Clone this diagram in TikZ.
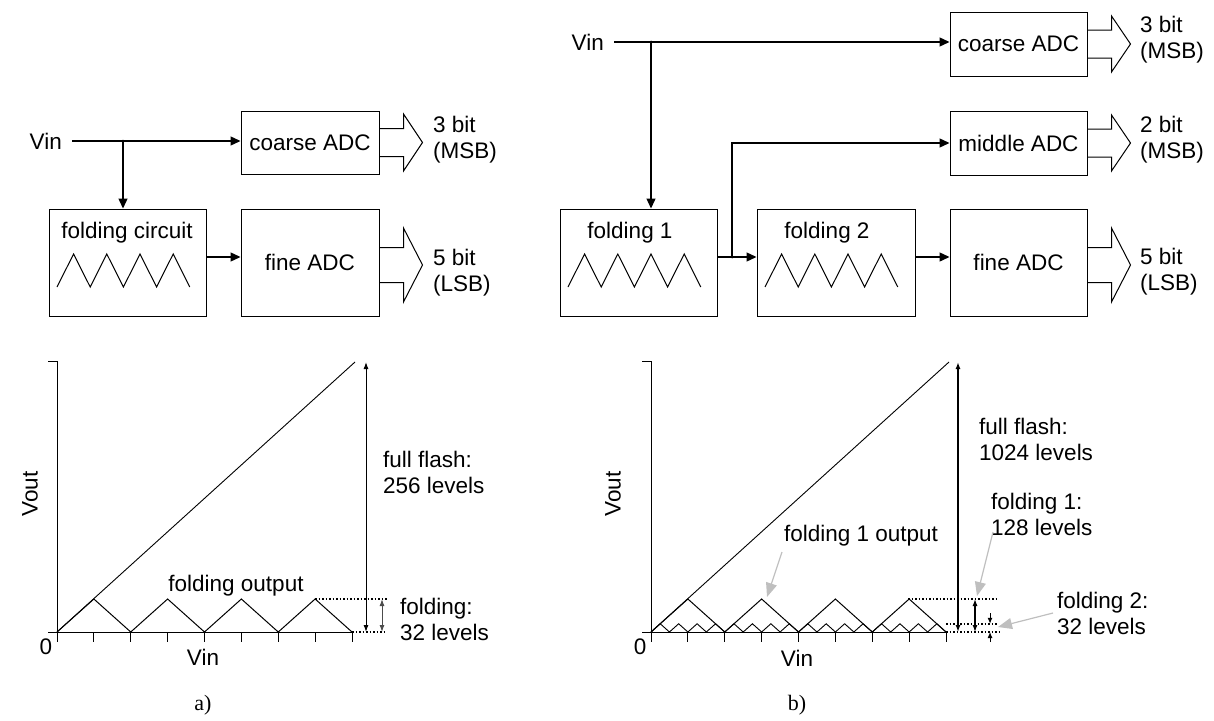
\documentclass[tikz,border=0pt]{standalone}
\usepackage{fontspec}
\setmainfont{Liberation Sans}
\newfontfamily\serifcap{Liberation Serif}
\usetikzlibrary{arrows.meta}
\tikzset{
 box/.style={draw, line width=1pt, inner sep=0pt, font=\fontsize{22.5}{26}\selectfont},
 conn/.style={line width=1.3pt, -{Triangle[length=10pt,width=9pt]}},
 lbl/.style={font=\fontsize{22.5}{26}\selectfont, inner sep=0pt},
 hollow/.style={line width=1pt, line join=miter},
 wave/.style={line width=1pt, line join=miter},
 dimarrow/.style={line width=1pt, {Latex[length=7pt,width=5pt]}-{Latex[length=7pt,width=5pt]}},
 grayarrow/.style={black!25, line width=1.2pt, -{Triangle[length=14pt,width=11pt]}},
 dotline/.style={line width=1.5pt, dotted},
 jdot/.style={circle, fill, inner sep=0pt, minimum size=3pt},
}
\newcommand\zigzag[1]{\draw[wave] (#1,287) \foreach \k in {1,...,4} {-- ++(16.6,-33) -- ++(16.6,33)};}
\newcommand\hollowarr[3]{\draw[hollow] (#1) ++(0,-#2) -- ++(24,0) -- ++(0,{#2-#3}) -- ++(19,#3) -- ++(-19,#3) -- ++(0,{#2-#3}) -- ++(-24,0);}
\begin{document}
\begin{tikzpicture}[x=1pt,y=-1pt]
\useasboundingbox (0,0) rectangle (1214,720);
% ================= panel a: block diagram =================
\node[box, minimum width=138pt, minimum height=63pt] (coarseA) at (310,142.5) {coarse ADC};
\node[box, minimum width=157pt, minimum height=107pt] (foldA) at (127.5,262.5) {};
\node[box, minimum width=138pt, minimum height=107pt] (fineA) at (310,262.5) {fine ADC};
\node[lbl] (foldAtxt) at (127,233) {folding circuit};
\zigzag{57}
\node[lbl, inner xsep=10pt, inner ysep=0pt, anchor=east] (vinA) at (72,141) {Vin};
\coordinate (jA) at (123,141);
\draw[conn] (vinA.east) -- (vinA.east -| coarseA.west);
\draw[conn] (jA) -- (jA |- foldA.north);
\node[jdot] at (jA) {};
\draw[conn] ([yshift=5.5pt]foldA.east) -- ([yshift=5.5pt]fineA.west);
\hollowarr{coarseA.east}{14}{28.5}
\hollowarr{[yshift=-2.5pt]fineA.east}{17.5}{37}
\node[lbl, anchor=west, align=left] (bitsA1) at (433,140) {3 bit\\(MSB)};
\node[lbl, anchor=west, align=left] (bitsA2) at (433,272.5) {5 bit\\(LSB)};
% ================= panel b: block diagram =================
\node[box, minimum width=137pt, minimum height=64pt] (coarseB) at (1018.5,44) {coarse ADC};
\node[box, minimum width=137pt, minimum height=64pt] (middleB) at (1018.5,143) {middle ADC};
\node[box, minimum width=137pt, minimum height=107pt] (fineB) at (1018.5,262.5) {fine ADC};
\node[box, minimum width=157pt, minimum height=107pt] (fold1) at (638.5,262.5) {};
\node[box, minimum width=158pt, minimum height=107pt] (fold2) at (836,262.5) {};
\node[lbl] (fold1txt) at (630,233) {folding 1};
\node[lbl] (fold2txt) at (827,233) {folding 2};
\zigzag{568}
\zigzag{765}
\node[lbl, inner xsep=10pt, inner ysep=0pt, anchor=east] (vinB) at (614,42) {Vin};
\coordinate (jB) at (651,42);
\coordinate (jB2) at (732,257);
\draw[conn] (vinB.east) -- (vinB.east -| coarseB.west);
\draw[conn] (jB) -- (jB |- fold1.north);
\node[jdot] at (jB) {};
\draw[conn] ([yshift=5.5pt]fold1.east) -- ([yshift=5.5pt]fold2.west);
\draw[conn] (jB2) |- (middleB.west);
\node[jdot] at (jB2) {};
\draw[conn] ([yshift=5.5pt]fold2.east) -- ([yshift=5.5pt]fineB.west);
\hollowarr{coarseB.east}{14}{28}
\hollowarr{middleB.east}{14}{28}
\hollowarr{[yshift=-2.5pt]fineB.east}{17.5}{37}
\node[lbl, anchor=west, align=left] (bitsB1) at (1140,40) {3 bit\\(MSB)};
\node[lbl, anchor=west, align=left] (bitsB2) at (1140,139.5) {2 bit\\(MSB)};
\node[lbl, anchor=west, align=left] (bitsB3) at (1140,272) {5 bit\\(LSB)};
% ================= panel a: graph =================
\draw[line width=1pt] (48,361) -- (57,361) -- (57,632);
\draw[line width=1pt] (48,632) -- (352,632);
\foreach \k in {0,...,8} \draw[line width=1pt] ({57+36.875*\k},632) -- ++(0,10);
\draw[line width=0.9pt] (57,632) -- (355,362);
\draw[wave] (57,632) \foreach \k in {1,...,4} {-- ++(36.875,-33) -- ++(36.875,33)};
\draw[dotline] (315,599) -- (387,599);
\draw[dotline] (352,632) -- (387,632);
\draw[dimarrow] (366,362) -- (366,632);
\draw[dimarrow, black!70] (382,599) -- (382,632);
\node[lbl, rotate=90] (voutA) at (30,494) {Vout};
\node[lbl] (zeroA) at (46,647) {0};
\node[lbl] (vinAx) at (203,657) {Vin};
\node[lbl] (foutA) at (236,586) {folding output};
\node[lbl, anchor=west, align=left] (ffA) at (383,472) {full flash:\\256 levels};
\node[lbl, anchor=west, align=left] (fA) at (400,619.5) {folding:\\32 levels};
\node[lbl, font=\serifcap\fontsize{22}{26}\selectfont] (capA) at (203,705) {a)};
% ================= panel b: graph =================
\draw[line width=1pt] (642,361) -- (651,361) -- (651,632);
\draw[line width=1pt] (642,632) -- (946,632);
\foreach \k in {0,...,8} \draw[line width=1pt] ({651+36.875*\k},632) -- ++(0,10);
\draw[line width=0.9pt] (651,632) -- (949,362);
\draw[wave] (651,632) \foreach \k in {1,...,4} {-- ++(36.875,-33) -- ++(36.875,33)};
\draw[wave, line width=0.9pt] (651,632) \foreach \k in {1,...,16} {-- ++(9.22,-8.25) -- ++(9.22,8.25)};
\draw[dotline] (908,599) -- (997,599);
\draw[dotline] (946,623.75) -- (997,623.75);
\draw[dotline] (946,632) -- (1000,632);
\draw[dimarrow, line width=1.4pt] (958,362) -- (958,632);
\draw[dimarrow, line width=1.2pt] (975,599) -- (975,632);
\draw[line width=1pt, -{Latex[length=6pt,width=5pt]}] (990,613) -- (990,623.75);
\draw[line width=1pt, -{Latex[length=6pt,width=5pt]}] (990,642) -- (990,632);
\node[lbl, rotate=90] (voutB) at (613,494) {Vout};
\node[lbl] (zeroB) at (640,647) {0};
\node[lbl] (vinBx) at (797,658) {Vin};
\node[lbl] (f1out) at (861,536) {folding 1 output};
\node[lbl, anchor=west, align=left] (ffB) at (979,439.5) {full flash:\\1024 levels};
\node[lbl, anchor=west, align=left] (f1B) at (991,514.5) {folding 1:\\128 levels};
\node[lbl, anchor=west, align=left] (f2B) at (1057,613) {folding 2:\\32 levels};
\coordinate (f1outTip) at (767,597);
\coordinate (f1Tip) at (977,596);
\coordinate (f2Tip) at (998,627);
\draw[grayarrow] (782,552) -- (f1outTip);
\draw[grayarrow] (993,532) -- (f1Tip);
\draw[grayarrow] (1053,613) -- (f2Tip);
\node[lbl, font=\serifcap\fontsize{22}{26}\selectfont] (capB) at (797,705) {b)};
\end{tikzpicture}
\end{document}
